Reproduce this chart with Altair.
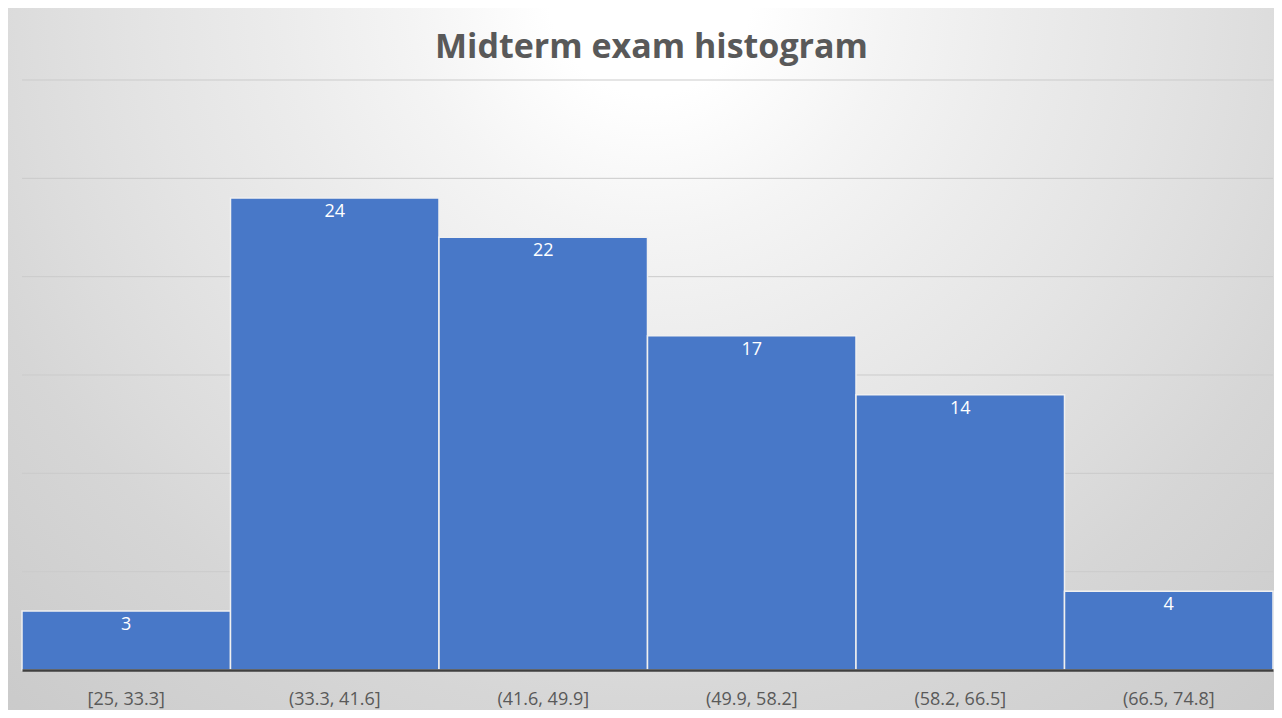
import altair as alt
import pandas as pd

# ---- data ----
bins = ["[25, 33.3]", "(33.3, 41.6]", "(41.6, 49.9]", "(49.9, 58.2]", "(58.2, 66.5]", "(66.5, 74.8]"]
counts = [3, 24, 22, 17, 14, 4]
grid_values = [5, 10, 15, 20, 25, 30]
title_text = ["Midterm exam histogram"]

# ---- layout ----
W, H = 1251, 590
PAD = {"left": 14, "top": 72, "right": 1, "bottom": 40}
FULL_W = W + PAD["left"] + PAD["right"]
FULL_H = H + PAD["top"] + PAD["bottom"]
FONT = "Open Sans"
BAR = "#4878C8"
TXT = "#595959"

df = pd.DataFrame({"bin": bins, "count": counts})
gdf = pd.DataFrame({"g": grid_values})
tdf = pd.DataFrame({"t": title_text})
bgdf = pd.DataFrame({"k": [0]})

yscale = alt.Scale(domain=[0, 30], nice=False, zero=True)
xscale = alt.Scale(paddingInner=0, paddingOuter=0)

# radial gradient (vega keeps it circular: unit square spans FULL_W, centred vertically)
unit = max(FULL_W, FULL_H)
yoff = (unit - FULL_H) / 2
cx = (PAD["left"] + 628) / unit
cy = (yoff - 15) / unit
grad = alt.RadialGradient(
    gradient="radial",
    stops=[
        alt.GradientStop(color="#ffffff", offset=0.0),
        alt.GradientStop(color="#ffffff", offset=0.08),
        alt.GradientStop(color="#f4f4f4", offset=0.19),
        alt.GradientStop(color="#ececec", offset=0.29),
        alt.GradientStop(color="#e4e4e4", offset=0.4),
        alt.GradientStop(color="#dcdcdc", offset=0.5),
        alt.GradientStop(color="#d6d6d6", offset=0.57),
        alt.GradientStop(color="#cbcbcb", offset=0.75),
        alt.GradientStop(color="#c4c4c4", offset=1.0),
    ],
    x1=cx, y1=cy, r1=0, x2=cx, y2=cy, r2=1,
)

bg = alt.Chart(bgdf).mark_rect(fill=grad, strokeWidth=0).encode(
    x=alt.value(-PAD["left"]), x2=alt.value(W + PAD["right"]),
    y=alt.value(-PAD["top"]), y2=alt.value(H + PAD["bottom"]),
)

grid = alt.Chart(gdf).mark_rule(color="#cbcbcb", strokeWidth=1).encode(
    y=alt.Y("g:Q", scale=yscale, axis=None)
)

bars = alt.Chart(df).mark_bar(color=BAR, stroke="#f0f0f0", strokeWidth=1.5).encode(
    x=alt.X("bin:N", sort=bins, scale=xscale,
            axis=alt.Axis(title=None, labelAngle=0, ticks=False, tickSize=0, grid=False,
                          domainColor="#404040", domainWidth=2.5, zindex=1,
                          labelFont=FONT, labelFontSize=18, labelColor=TXT,
                          labelPadding=20)),
    y=alt.Y("count:Q", scale=yscale, axis=None),
)

labels = alt.Chart(df).mark_text(color="white", font=FONT, fontSize=18, baseline="top", dy=5).encode(
    x=alt.X("bin:N", sort=bins, scale=xscale),
    y=alt.Y("count:Q", scale=yscale),
    text=alt.Text("count:Q"),
)

title = alt.Chart(tdf).mark_text(font=FONT, fontSize=34, fontWeight=700, color=TXT,
                                 align="center", baseline="alphabetic").encode(
    x=alt.value(W / 2 + 4), y=alt.value(-22), text="t:N"
)

chart = alt.layer(bg, grid, bars, labels, title).resolve_scale(y="shared").properties(
    width=W, height=H, padding=PAD,
    autosize=alt.AutoSizeParams(type="none"),
).configure_view(stroke=None)

chart.save("out.html", embed_options={"renderer": "svg", "actions": False})
